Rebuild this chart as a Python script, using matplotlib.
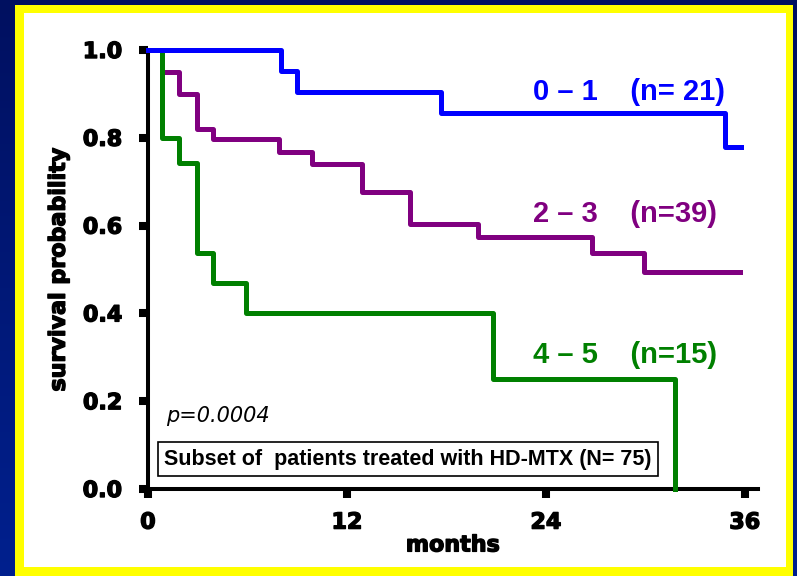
import matplotlib.pyplot as plt
import matplotlib.patheffects as pe
import numpy as np
from matplotlib.colors import LinearSegmentedColormap
from matplotlib.patches import Rectangle

# survival curves (months, survival probability)
t_01 = [0, 8.0, 9.0, 17.7, 34.8, 35.8]
s_01 = [1.0, 0.952, 0.905, 0.857, 0.78, 0.78]

t_23 = [0, 0.85, 1.85, 2.95, 3.95, 7.9, 9.9, 12.9, 15.8, 19.9, 26.8, 29.9, 35.7]
s_23 = [1.0, 0.95, 0.90, 0.82, 0.797, 0.768, 0.74, 0.677, 0.604, 0.575, 0.537, 0.494, 0.494]

t_45 = [0, 0.85, 1.85, 2.95, 3.95, 5.9, 20.8, 31.8]
s_45 = [1.0, 0.80, 0.742, 0.537, 0.47, 0.402, 0.25, 0.0]

labels = ["0 \u2013 1    (n= 21)", "2 \u2013 3    (n=39)", "4 \u2013 5    (n=15)"]
colors = ["#0000ff", "#800080", "#008000"]

x_ticks = [0, 12, 24, 36]
y_ticks = [0.0, 0.2, 0.4, 0.6, 0.8, 1.0]

W, H = 797, 576
fig = plt.figure(figsize=(W / 100, H / 100), dpi=100)

# navy gradient background
bg = fig.add_axes([0, 0, 1, 1], zorder=-10)
grad = np.linspace(0, 1, 256).reshape(-1, 1)
cmap = LinearSegmentedColormap.from_list("navy", ["#001060", "#00208e"])
bg.imshow(grad, aspect="auto", cmap=cmap, extent=[0, 1, 0, 1])
bg.axis("off")

# yellow frame and white panel
fig.patches.append(Rectangle((15 / W, 0), 778 / W, 571 / H, transform=fig.transFigure,
                             facecolor="#ffff00", edgecolor="none", zorder=-5))
fig.patches.append(Rectangle((24 / W, 9 / H), 762 / W, 554 / H, transform=fig.transFigure,
                             facecolor="white", edgecolor="none", zorder=-4))

ax = fig.add_axes([148 / W, 1 - 489 / H, 610 / W, 439 / H])
ax.set_facecolor("none")

ax.step(t_23, s_23, where="post", color=colors[1], lw=3.6, clip_on=False, zorder=2)
ax.step(t_45, s_45, where="post", color=colors[2], lw=3.6, clip_on=False, zorder=3)
ax.step(t_01, s_01, where="post", color=colors[0], lw=3.6, clip_on=False, zorder=4)

ax.set_xlim(0, 36.8)
ax.set_ylim(0, 1.0)
ax.set_xticks(x_ticks)
ax.set_yticks(y_ticks)
ax.set_yticklabels([f"{v:.1f}" for v in y_ticks])

for side in ["top", "right"]:
    ax.spines[side].set_visible(False)
for side in ["left", "bottom"]:
    ax.spines[side].set_linewidth(2.9)
    ax.spines[side].set_color("black")

# heavy black text, a bit like Arial Black
heavy = [pe.withStroke(linewidth=1.0, foreground="black")]

ax.tick_params(direction="out", length=6.5, width=5.8, color="black")
ax.tick_params(axis="x", pad=10.5)
ax.tick_params(axis="y", pad=12)
for lab in ax.get_xticklabels() + ax.get_yticklabels():
    lab.set_fontfamily("DejaVu Sans")
    lab.set_fontweight("bold")
    lab.set_fontsize(16)
    lab.set_path_effects(heavy)

ax.set_xlabel("months", fontfamily="DejaVu Sans", fontweight="bold", fontsize=16,
              labelpad=2, path_effects=heavy)
ax.set_ylabel("survival probability", fontfamily="DejaVu Sans", fontweight="bold",
              fontsize=16, labelpad=10, path_effects=heavy)

# group labels
label_y = [0.886, 0.608, 0.287]
for txt, c, y in zip(labels, colors, label_y):
    ax.text(23.2, y, txt, color=c, fontfamily="Liberation Sans", fontweight="bold",
            fontsize=21, ha="left", va="baseline")

ax.text(1.1, 0.153, "p=0.0004", fontfamily="DejaVu Sans", fontstyle="oblique",
        fontsize=15, ha="left", va="baseline")

ax.text(0.99, 0.068, "Subset of  patients treated with HD-MTX (N= 75)",
        fontfamily="Liberation Sans", fontweight="bold", fontsize=15.5,
        ha="left", va="center",
        bbox=dict(boxstyle="square,pad=0.3", facecolor="white", edgecolor="black", lw=1.2))

fig.savefig("out.png", dpi=100)
